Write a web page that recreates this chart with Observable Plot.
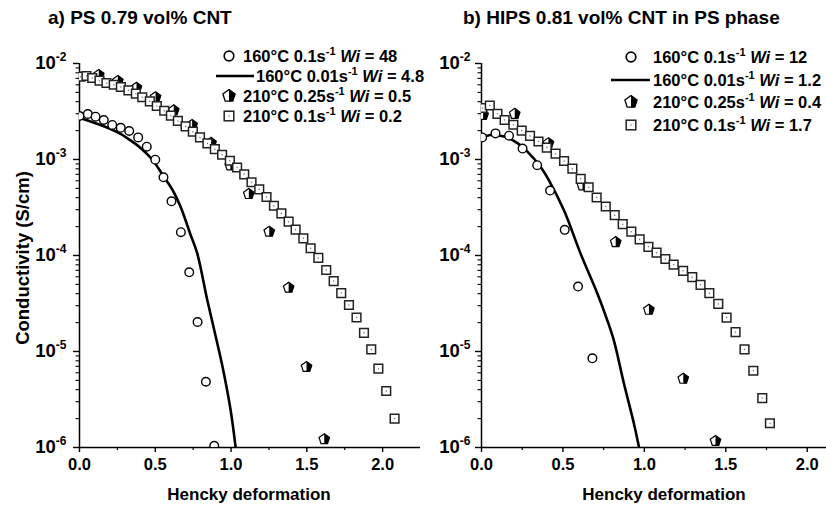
<!DOCTYPE html>
<html><head><meta charset="utf-8">
<script src="https://cdn.jsdelivr.net/npm/d3@7"></script>
<script src="https://cdn.jsdelivr.net/npm/@observablehq/plot@0.6"></script>
<style>
body{margin:0;background:#fff;font-family:"Liberation Sans",Arial,sans-serif;}
#root{position:relative;width:826px;height:506px;overflow:hidden;background:#fff;}
#root svg{position:absolute;top:0;}
</style></head><body><div id="root"></div>
<script>
// ---------- data: panel a) PS 0.79 vol% CNT ----------
const aSquareX = [0.007,0.046,0.084,0.132,0.178,0.226,0.273,0.323,0.372,0.414,0.464,0.510,0.559,0.603,0.649,0.700,0.748,0.795,0.844,0.893,0.941,0.992,1.040,1.087,1.135,1.186,1.234,1.283,1.332,1.380,1.426,1.477,1.525,1.576,1.628,1.677,1.727,1.778,1.828,1.877,1.925,1.972,2.024,2.079];
const aSquareY = [7.29e-3,7.41e-3,7.06e-3,6.62e-3,6.26e-3,6.01e-3,5.69e-3,5.26e-3,4.85e-3,4.45e-3,4.04e-3,3.61e-3,3.22e-3,2.86e-3,2.52e-3,2.21e-3,1.95e-3,1.70e-3,1.47e-3,1.28e-3,1.12e-3,9.7e-4,8.26e-4,7.01e-4,5.79e-4,4.89e-4,4.07e-4,3.30e-4,2.75e-4,2.25e-4,1.86e-4,1.51e-4,1.19e-4,9.44e-5,7.06e-5,5.42e-5,4.06e-5,3.05e-5,2.26e-5,1.56e-5,1.05e-5,6.62e-6,3.88e-6,2.0e-6];
const aPentaX = [0.127,0.253,0.376,0.502,0.622,0.743,0.868,0.995,1.117,1.252,1.380,1.498,1.615];
const aPentaY = [7.59e-3,6.57e-3,5.60e-3,4.45e-3,3.25e-3,2.29e-3,1.49e-3,8.66e-4,4.37e-4,1.77e-4,4.62e-5,6.9e-6,1.22e-6];
const aCircleX = [0.0,0.055,0.106,0.160,0.216,0.272,0.328,0.387,0.444,0.500,0.554,0.607,0.669,0.724,0.779,0.834,0.889];
const aCircleY = [2.84e-3,2.98e-3,2.79e-3,2.58e-3,2.29e-3,2.14e-3,1.98e-3,1.70e-3,1.36e-3,9.95e-4,6.53e-4,3.67e-4,1.75e-4,6.68e-5,2.03e-5,4.84e-6,1.04e-6];
const aLineX = [0,0.073,0.139,0.205,0.271,0.337,0.403,0.480,0.556,0.614,0.667,0.733,0.777,0.843,0.898,0.944,0.997,1.030];
const aLineY = [2.71e-3,2.49e-3,2.29e-3,2.08e-3,1.85e-3,1.58e-3,1.32e-3,1.0e-3,6.62e-4,4.81e-4,3.22e-4,1.64e-4,1.05e-4,3.44e-5,1.45e-5,6.9e-6,2.46e-6,1.01e-6];

// ---------- data: panel b) HIPS 0.81 vol% CNT in PS phase ----------
const bSquareX = [0.006,0.051,0.098,0.142,0.196,0.247,0.298,0.350,0.401,0.455,0.507,0.558,0.609,0.658,0.707,0.763,0.818,0.867,0.920,0.971,1.025,1.075,1.129,1.180,1.238,1.294,1.345,1.399,1.454,1.505,1.560,1.615,1.669,1.724,1.771];
const bSquareY = [3.44e-3,3.65e-3,2.99e-3,2.58e-3,2.30e-3,2.00e-3,1.76e-3,1.54e-3,1.33e-3,1.15e-3,9.64e-4,8.02e-4,6.29e-4,5.14e-4,4.02e-4,3.24e-4,2.63e-4,2.12e-4,1.77e-4,1.47e-4,1.23e-4,1.07e-4,9.2e-5,8.05e-5,6.93e-5,5.95e-5,4.95e-5,4.05e-5,3.13e-5,2.25e-5,1.59e-5,1.05e-5,6.3e-6,3.27e-6,1.79e-6];
const bPentaX = [0.010,0.204,0.411,0.620,0.824,1.028,1.239,1.437];
const bPentaY = [2.92e-3,2.99e-3,1.48e-3,5.36e-4,1.38e-4,2.72e-5,5.2e-6,1.17e-6];
const bCircleX = [0.004,0.086,0.169,0.252,0.342,0.421,0.511,0.593,0.681];
const bCircleY = [1.70e-3,1.87e-3,1.77e-3,1.30e-3,8.72e-4,4.75e-4,1.85e-4,4.75e-5,8.5e-6];
const bLineX = [0,0.057,0.098,0.155,0.221,0.282,0.364,0.415,0.507,0.609,0.712,0.773,0.813,0.875,0.936,0.967];
const bLineY = [1.70e-3,1.80e-3,1.78e-3,1.70e-3,1.48e-3,1.21e-3,8.32e-4,6.04e-4,2.94e-4,1.04e-4,3.99e-5,2.10e-5,1.30e-5,4.61e-6,1.77e-6,1.01e-6];

// ---------- ticks & text ----------
const majorX = [0, 0.5, 1.0, 1.5, 2.0];
const minorX = [0.25, 0.75, 1.25, 1.75];
const majorY = [1e-6, 1e-5, 1e-4, 1e-3, 1e-2];
const minorY = [2,3,4,5,6,7,8,9].flatMap(m => [1e-6,1e-5,1e-4,1e-3].map(d => m*d));
const titles = ["a) PS 0.79 vol% CNT", "b) HIPS 0.81 vol% CNT in PS phase"];
const xTitle = "Hencky deformation";
const yTitle = "Conductivity (S/cm)";
const legendTemps = ["160°C", "160°C", "210°C", "210°C"];
const legendRates = ["0.1s", "0.01s", "0.25s", "0.1s"];
const legendWiA = ["= 48", "= 4.8", "= 0.5", "= 0.2"];
const legendWiB = ["= 12", "= 1.2", "= 0.4", "= 1.7"];
const legendKinds = ["circle", "line", "penta", "square"];

const zip = (xs, ys) => xs.map((x, i) => ({x, y: ys[i]}));

// custom pentagon symbols
const K = 1.15;
const pentagon = {draw(ctx, size) {
  const R = Math.sqrt(size / Math.PI) * K;
  for (let i = 0; i < 5; i++) {
    const a = -Math.PI / 2 + i * 2 * Math.PI / 5;
    i ? ctx.lineTo(R * Math.cos(a), R * Math.sin(a)) : ctx.moveTo(R * Math.cos(a), R * Math.sin(a));
  }
  ctx.closePath();
}};
const halfPentagon = {draw(ctx, size) {
  const R = Math.sqrt(size / Math.PI) * K;
  const a1 = -Math.PI / 2 + 2 * Math.PI / 5, a2 = -Math.PI / 2 + 4 * Math.PI / 5;
  ctx.moveTo(0, -R);
  ctx.lineTo(R * Math.cos(a1), R * Math.sin(a1));
  ctx.lineTo(R * Math.cos(a2), R * Math.sin(a2));
  ctx.lineTo(0, R * Math.sin(a2));
  ctx.closePath();
}};

const FONT = "'Liberation Sans', Arial, Helvetica, sans-serif";

function panel({left, width, marginLeft, xMax, sq, pe, ci, li, yPad}) {
  const svg = Plot.plot({
    width, height: 506,
    marginLeft, marginRight: 0, marginTop: 63, marginBottom: 59,
    style: {fontFamily: FONT, fontWeight: "bold", color: "#000", background: "transparent", overflow: "visible"},
    x: {domain: [0, xMax]},
    y: {type: "log", domain: [1e-6, 1e-2]},
    marks: [
      Plot.axisX({ticks: majorX, tickSize: 5, tickPadding: 6, tickFormat: d3.format(".1f"), label: null, strokeWidth: 1.4}),
      Plot.axisX({ticks: minorX, tickSize: 3, tickFormat: () => "", label: null, strokeWidth: 1.2}),
      Plot.axisY({ticks: majorY, tickSize: 6, tickPadding: yPad, tickFormat: d => "10^" + Math.round(Math.log10(d)), label: null, strokeWidth: 1.4}),
      Plot.axisY({ticks: minorY, tickSize: 3.5, tickFormat: () => "", label: null, strokeWidth: 1.1}),
      Plot.ruleX([0], {stroke: "#000", strokeWidth: 1.5}),
      Plot.ruleY([1e-6], {stroke: "#000", strokeWidth: 1.5}),
      Plot.line(li, {x: "x", y: "y", stroke: "#000", strokeWidth: 2.6, curve: "catmull-rom", clip: true}),
      Plot.dot(ci, {x: "x", y: "y", r: 4.3, fill: "white", stroke: "#000", strokeWidth: 1.4, clip: true}),
      Plot.dot(pe, {x: "x", y: "y", r: 4.8, symbol: pentagon, fill: "white", stroke: "#000", strokeWidth: 1.2, clip: true}),
      Plot.dot(pe, {x: "x", y: "y", r: 4.8, symbol: halfPentagon, fill: "#000", clip: true}),
      Plot.dot(sq, {x: "x", y: "y", r: 4.9, symbol: "square", fill: "white", stroke: "#222", strokeWidth: 1.5, clip: true}),
      Plot.dot(sq, {x: "x", y: "y", r: 0.75, fill: "#777", clip: true})
    ]
  });
  svg.style.left = left + "px";
  const s = d3.select(svg);
  s.selectAll('g[aria-label="x-axis tick label"]').attr("font-size", 16.5).attr("font-weight", "bold");
  s.selectAll('g[aria-label="y-axis tick label"]').attr("font-size", 18.5).attr("font-weight", "bold");
  // superscript exponent in log tick labels
  s.selectAll('g[aria-label="y-axis tick label"] text').each(function() {
    const t = this.textContent;
    if (!t.includes("^")) return;
    const [base, exp] = t.split("^");
    const sel = d3.select(this).text("");
    sel.append("tspan").text(base);
    sel.append("tspan").attr("font-size", 12).attr("dy", -8).text(exp);
  });
  return svg;
}

const root = document.getElementById("root");
root.appendChild(panel({left: 0, width: 420, marginLeft: 79, xMax: 2.25,
  sq: zip(aSquareX, aSquareY), pe: zip(aPentaX, aPentaY), ci: zip(aCircleX, aCircleY), li: zip(aLineX, aLineY), yPad: 7}));
root.appendChild(panel({left: 420, width: 406, marginLeft: 61, xMax: (826 - 480.7) / 163,
  sq: zip(bSquareX, bSquareY), pe: zip(bPentaX, bPentaY), ci: zip(bCircleX, bCircleY), li: zip(bLineX, bLineY), yPad: 5}));

// ---------- overlay: titles, axis titles, legends ----------
const ov = d3.select(root).append("svg").attr("width", 826).attr("height", 506)
  .style("left", "0px").style("pointer-events", "none")
  .attr("font-family", FONT).attr("font-weight", "bold").attr("fill", "#000");

ov.append("text").attr("x", 48).attr("y", 24).attr("font-size", 19).text(titles[0]);
ov.append("text").attr("x", 463).attr("y", 24).attr("font-size", 19).text(titles[1]);
ov.append("text").attr("x", 249).attr("y", 500).attr("font-size", 17).attr("text-anchor", "middle").text(xTitle);
ov.append("text").attr("x", 664).attr("y", 500).attr("font-size", 17).attr("text-anchor", "middle").text(xTitle);
ov.append("text").attr("transform", "translate(29,258) rotate(-90)").attr("font-size", 18.5).attr("text-anchor", "middle").text(yTitle);

function legend({symX, lineX0, lineX1, textX, textXLine, rows, wi, fs}) {
  rows.forEach((cy, i) => {
    const kind = legendKinds[i];
    const g = ov.append("g");
    if (kind === "circle") {
      g.append("circle").attr("cx", symX).attr("cy", cy).attr("r", 4.8).attr("fill", "white").attr("stroke", "#000").attr("stroke-width", 1.7);
    } else if (kind === "line") {
      g.append("line").attr("x1", lineX0).attr("x2", lineX1).attr("y1", cy).attr("y2", cy).attr("stroke", "#000").attr("stroke-width", 2.6);
    } else if (kind === "penta") {
      const s = Math.PI * 5.6 * 5.6;
      g.append("path").attr("transform", `translate(${symX},${cy})`).attr("d", d3.symbol(pentagon, s)()).attr("fill", "white").attr("stroke", "#000").attr("stroke-width", 1.3);
      g.append("path").attr("transform", `translate(${symX},${cy})`).attr("d", d3.symbol(halfPentagon, s)()).attr("fill", "#000");
    } else {
      g.append("rect").attr("x", symX - 4.8).attr("y", cy - 4.8).attr("width", 9.6).attr("height", 9.6).attr("fill", "white").attr("stroke", "#222").attr("stroke-width", 1.5);
      g.append("circle").attr("cx", symX).attr("cy", cy).attr("r", 0.75).attr("fill", "#777");
    }
    const tx = kind === "line" ? textXLine : textX;
    const t = g.append("text").attr("x", tx).attr("y", cy + 6).attr("font-size", fs);
    t.append("tspan").text(legendTemps[i] + " " + legendRates[i]);
    t.append("tspan").attr("font-size", 11).attr("dy", -7).text("-1");
    t.append("tspan").attr("dy", 7).text(" ");
    t.append("tspan").attr("font-style", "italic").text("Wi");
    t.append("tspan").text(" " + wi[i]);
  });
}
legend({symX: 229, lineX0: 216, lineX1: 254, textX: 243, textXLine: 256, rows: [56, 76, 96, 116], wi: legendWiA, fs: 16.5});
legend({symX: 631, lineX0: 611, lineX1: 650, textX: 653, textXLine: 653, rows: [57, 80, 102, 125], wi: legendWiB, fs: 16.5});
</script></body></html>
